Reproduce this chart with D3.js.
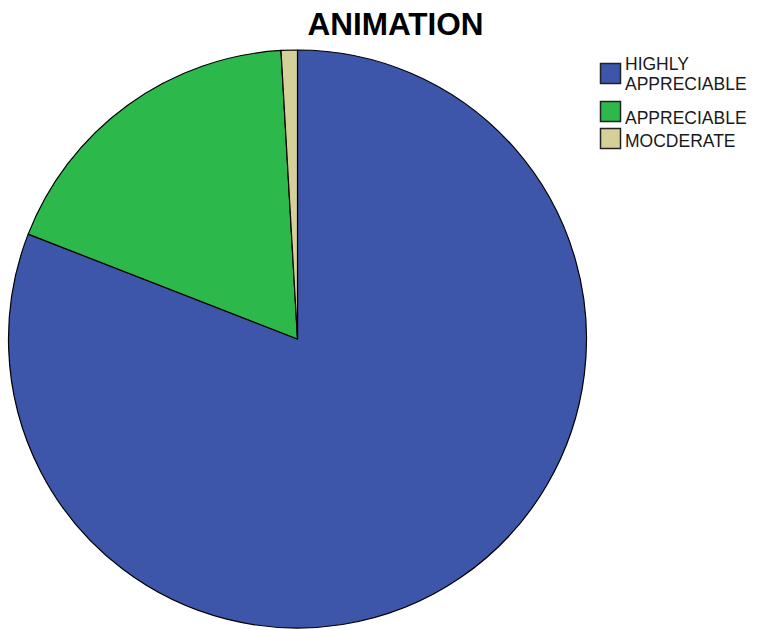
<!DOCTYPE html>
<html>
<head>
<meta charset="utf-8">
<script src="https://cdn.jsdelivr.net/npm/d3@7"></script>
<style>
  html, body { margin: 0; padding: 0; background: #ffffff; }
  svg { display: block; }
</style>
</head>
<body>
<svg id="chart" width="767" height="630"></svg>
<script>
const title = "ANIMATION";
const categories = ["HIGHLY APPRECIABLE", "APPRECIABLE", "MOCDERATE"];
const legendLines = [["HIGHLY", "APPRECIABLE"], ["APPRECIABLE"], ["MOCDERATE"]];
const values = [89, 20, 1];
const colors = ["#3d56aa", "#2db84b", "#d5cf98"];

const svg = d3.select("#chart");
const W = 767, H = 630;
svg.append("rect").attr("width", W).attr("height", H).attr("fill", "#fff");

const cx = 297.5, cy = 339, r = 289;

const pie = d3.pie().sort(null).value(d => d.v).startAngle(0).endAngle(2 * Math.PI);
const arc = d3.arc().innerRadius(0).outerRadius(r);
const data = categories.map((c, i) => ({ c, v: values[i], col: colors[i] }));

const g = svg.append("g").attr("transform", `translate(${cx},${cy})`);
g.selectAll("path")
  .data(pie(data))
  .join("path")
  .attr("d", arc)
  .attr("fill", d => d.data.col)
  .attr("stroke", "#000")
  .attr("stroke-width", 1.2)
  .attr("stroke-linejoin", "round");

svg.append("text")
  .attr("x", 395.5)
  .attr("y", 35)
  .attr("text-anchor", "middle")
  .attr("font-family", "Liberation Sans, Arial, sans-serif")
  .attr("font-weight", "bold")
  .attr("font-size", 31.5)
  .attr("fill", "#000")
  .text(title);

// Legend
const legendY = [
  { box: 63, lines: [69.5, 89.5] },
  { box: 101, lines: [124] },
  { box: 128, lines: [146.5] }
];
const lg = svg.append("g");
data.forEach((d, i) => {
  lg.append("rect")
    .attr("x", 600.5).attr("y", legendY[i].box + 0.5)
    .attr("width", 20).attr("height", 20)
    .attr("fill", d.col)
    .attr("stroke", "#222")
    .attr("stroke-width", 1.5);
  legendLines[i].forEach((t, j) => {
    lg.append("text")
      .attr("x", 625)
      .attr("y", legendY[i].lines[j])
      .attr("font-family", "Liberation Sans, Arial, sans-serif")
      .attr("font-size", 17.5)
      .attr("fill", "#1a1a1a")
      .text(t);
  });
});
</script>
</body>
</html>
